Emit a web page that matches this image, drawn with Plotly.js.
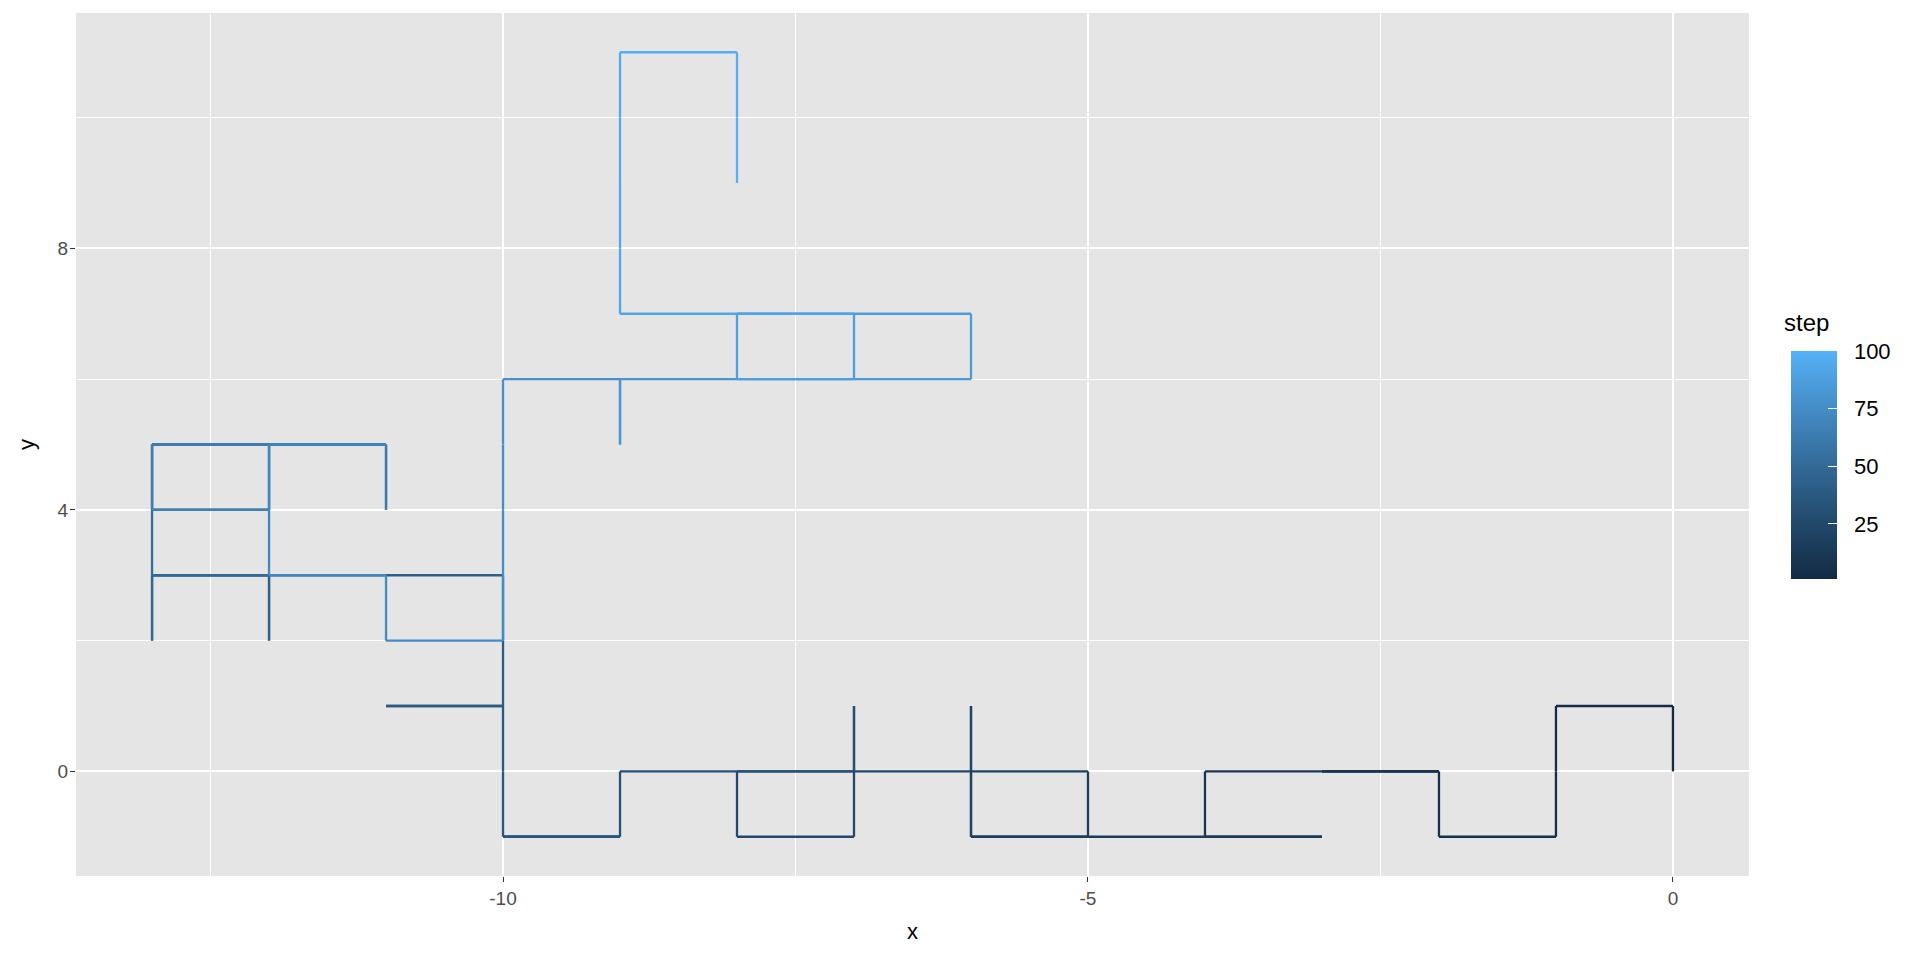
<!DOCTYPE html>
<html>
<head>
<meta charset="utf-8">
<script src="https://cdn.plot.ly/plotly-3.0.1.min.js"></script>
<style>
html,body{margin:0;padding:0;background:#ffffff;}
#chart{width:1920px;height:960px;}
</style>
</head>
<body>
<div id="chart"></div>
<script>
// Random-walk positions, one row per step
const xs = [0,0,-1,-1,-1,-2,-2,-3,-2,-3,
            -4,-4,-3,-4,-5,-6,-5,-5,-6,-6,
            -6,-6,-6,-7,-7,-8,-8,-7,-7,-7,
            -8,-9,-9,-10,-9,-10,-10,-10,-11,-10,
            -10,-10,-11,-12,-12,-12,-13,-13,-13,-12,
            -13,-13,-12,-13,-13,-12,-12,-13,-13,-12,
            -11,-11,-11,-12,-13,-13,-12,-12,-11,-12,
            -12,-12,-11,-11,-10,-10,-10,-10,-10,-9,
            -9,-9,-8,-7,-6,-6,-7,-7,-8,-8,
            -7,-8,-9,-9,-9,-9,-9,-8,-8,-8];
const ys = [0,1,1,0,-1,-1,0,0,0,0,
            0,-1,-1,-1,-1,-1,-1,0,0,-1,
            0,1,0,0,-1,-1,0,0,1,0,
            0,0,-1,-1,-1,-1,0,1,1,1,
            2,3,3,3,2,3,3,2,3,3,
            3,4,4,4,5,5,4,4,5,5,
            5,4,5,5,5,4,4,5,5,5,
            4,3,3,2,2,3,4,5,6,6,
            5,6,6,6,6,7,7,6,6,7,
            7,7,7,8,9,10,11,11,10,9];
const steps = [1,2,3,4,5,6,7,8,9,10,
               11,12,13,14,15,16,17,18,19,20,
               21,22,23,24,25,26,27,28,29,30,
               31,32,33,34,35,36,37,38,39,40,
               41,42,43,44,45,46,47,48,49,50,
               51,52,53,54,55,56,57,58,59,60,
               61,62,63,64,65,66,67,68,69,70,
               71,72,73,74,75,76,77,78,79,80,
               81,82,83,84,85,86,87,88,89,90,
               91,92,93,94,95,96,97,98,99,100];
const xTicks = [-10, -5, 0];
const yTicks = [0, 4, 8];
const legendTicks = [25, 50, 75, 100];
const legendTitle = 'step';
const lowColour = '#132B43';
const highColour = '#56B1F7';

// --- Lab interpolation (like ggplot's default continuous gradient) ---
function hexToRgb(h){h=h.replace('#','');return [0,2,4].map(i=>parseInt(h.substr(i,2),16)/255);}
function lin(c){return c<=0.04045?c/12.92:Math.pow((c+0.055)/1.055,2.4);}
function delin(c){return c<=0.0031308?12.92*c:1.055*Math.pow(c,1/2.4)-0.055;}
const WX=0.95047,WY=1.0,WZ=1.08883;
function f(t){return t>0.008856?Math.cbrt(t):(7.787*t+16/116);}
function finv(t){const t3=t*t*t;return t3>0.008856?t3:(t-16/116)/7.787;}
function toLab(hex){
  const [r,g,b]=hexToRgb(hex).map(lin);
  const X=r*0.4124+g*0.3576+b*0.1805, Y=r*0.2126+g*0.7152+b*0.0722, Z=r*0.0193+g*0.1192+b*0.9505;
  const fx=f(X/WX),fy=f(Y/WY),fz=f(Z/WZ);
  return [116*fy-16,500*(fx-fy),200*(fy-fz)];
}
function fromLab(L,a,b){
  const fy=(L+16)/116,fx=fy+a/500,fz=fy-b/200;
  const X=WX*finv(fx),Y=WY*finv(fy),Z=WZ*finv(fz);
  let r=X*3.2406+Y*-1.5372+Z*-0.4986, g=X*-0.9689+Y*1.8758+Z*0.0415, bb=X*0.0557+Y*-0.2040+Z*1.0570;
  const c=[r,g,bb].map(v=>Math.round(Math.min(1,Math.max(0,delin(v)))*255));
  return 'rgb('+c[0]+','+c[1]+','+c[2]+')';
}
const labLo=toLab(lowColour), labHi=toLab(highColour);
function colAt(t){return fromLab(labLo[0]+(labHi[0]-labLo[0])*t,labLo[1]+(labHi[1]-labLo[1])*t,labLo[2]+(labHi[2]-labLo[2])*t);}
const sMin=Math.min(...steps), sMax=Math.max(...steps);
function stepColour(s){return colAt((s-sMin)/(sMax-sMin));}
const scale=[];
for(let i=0;i<=20;i++){scale.push([i/20,colAt(i/20)]);}

const traces=[];
for(let i=0;i<xs.length-1;i++){
  traces.push({type:'scatter',mode:'lines',x:[xs[i],xs[i+1]],y:[ys[i],ys[i+1]],
    line:{color:stepColour(steps[i]),width:2.3},hoverinfo:'skip',showlegend:false});
}
function legendBar(withLabels){
  return {type:'scatter',mode:'markers',x:[xs[0]],y:[ys[0]],hoverinfo:'skip',showlegend:false,
    marker:{size:1,opacity:0,color:[steps[0]],cmin:sMin,cmax:sMax,colorscale:scale,showscale:true,
      colorbar:{x:1.025,xanchor:'left',xpad:0,y:0.344,yanchor:'bottom',ypad:0,
        len:228,lenmode:'pixels',thickness:46,thicknessmode:'pixels',
        outlinewidth:0,tickmode:'array',tickvals:legendTicks,ticktext:legendTicks.map(String),
        ticks:withLabels?'outside':'inside',ticklen:withLabels?13:9,tickwidth:1,
        tickcolor:withLabels?'rgba(0,0,0,0)':'#ffffff',
        showticklabels:withLabels,
        tickfont:{size:22,color:'#000000'}}}};
}
traces.push(legendBar(true));
traces.push(legendBar(false));

const font='"Liberation Sans", Arial, sans-serif';
const layout={
  width:1920,height:960,
  margin:{l:76,r:171,t:13,b:84,pad:0},
  paper_bgcolor:'#ffffff',plot_bgcolor:'#E5E5E5',
  font:{family:font,color:'#000000'},
  showlegend:false,
  annotations:[{text:legendTitle,xref:'paper',yref:'paper',x:1.02,y:0.641,xanchor:'left',yanchor:'middle',
    showarrow:false,font:{size:24,color:'#000000'}}],
  xaxis:{range:[-13.65,0.65],tickmode:'array',tickvals:xTicks,ticktext:xTicks.map(String),
    showgrid:true,gridcolor:'#ffffff',gridwidth:2,zeroline:false,showline:false,
    ticks:'outside',ticklen:5,tickwidth:1,tickcolor:'#333333',
    tickfont:{size:19,color:'#4D4D4D'},
    minor:{tickmode:'array',tickvals:[-12.5,-7.5,-2.5],showgrid:true,gridcolor:'#ffffff',gridwidth:1,ticks:''},
    title:{text:'x',font:{size:22,color:'#000000'},standoff:15}},
  yaxis:{range:[-1.6,11.6],tickmode:'array',tickvals:yTicks,ticktext:yTicks.map(String),
    showgrid:true,gridcolor:'#ffffff',gridwidth:2,zeroline:false,showline:false,
    ticks:'outside',ticklen:5,tickwidth:1,tickcolor:'#333333',ticklabelstandoff:-2,
    tickfont:{size:19,color:'#4D4D4D'},
    minor:{tickmode:'array',tickvals:[2,6,10],showgrid:true,gridcolor:'#ffffff',gridwidth:1,ticks:''},
    title:{text:'y',font:{size:22,color:'#000000'},standoff:16}}
};
Plotly.newPlot('chart',traces,layout,{displayModeBar:false,staticPlot:true});
</script>
</body>
</html>
